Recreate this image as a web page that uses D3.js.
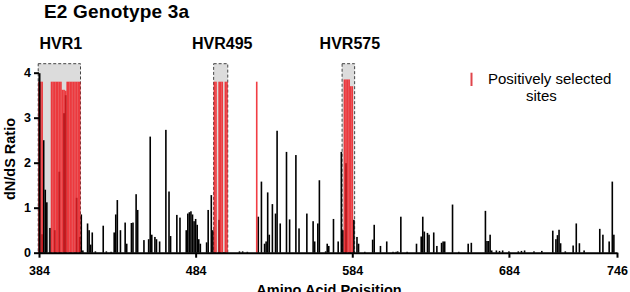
<!DOCTYPE html>
<html>
<head>
<meta charset="utf-8">
<script src="https://cdn.jsdelivr.net/npm/d3@7"></script>
<style>
  body { margin: 0; background: #fff; }
  text { font-family: Arial, "Liberation Sans", Helvetica, sans-serif; fill: #000; }
</style>
</head>
<body>
<svg id="chart"></svg>
<script>
// dN/dS per amino acid site (only non-zero sites listed)
var sites = [386,387,388,389,391,394,397,400,401,408,410,411,412,415,416,417,418,420,425,427,430,
  432,433,434,436,439,440,443,444,446,447,451,454,455,456,458,459,461,465,467,468,472,474,
  478,479,480,481,482,483,484,485,486,487,491,492,494,495,499,512,514,517,
  524,526,528,529,530,531,533,535,536,538,542,544,548,550,555,559,560,562,563,567,568,569,572,575,
  577,578,580,585,587,588,592,597,598,602,606,610,612,613,615,619,625,628,629,630,632,633,636,638,
  641,642,643,648,652,658,660,669,670,671,672,673,676,678,680,684,690,692,694,700,705,
  712,714,715,716,717,720,725,727,729,732,742,744,748,750,751];
var dnds = [0.41,2.5,1.4,1.12,0.55,0.5,1.8,3.1,3.5,1.22,0.35,0.85,0.05,0.65,0.5,0.18,0.45,0.03,0.6,0.03,0.02,
  0.45,0.85,1.17,0.5,0.67,0.2,0.66,0.67,1.3,0.95,0.28,0.3,2.58,0.4,0.35,0.3,0.25,2.73,1.36,0.37,0.84,0.78,
  0.5,0.87,0.9,0.92,0.85,0.7,0.75,0.62,0.3,0.2,0.23,0.95,1.28,0.5,0.73,0.03,0.03,0.02,
  0.8,1.58,0.2,0.25,1.34,0.4,1.08,0.87,2.71,0.65,2.24,0.74,2.17,0.54,0.87,0.7,0.25,0.65,1.61,0.03,0.2,0.15,0.75,0.25,
  2.24,0.5,1.99,0.73,0.35,0.2,0.02,0.29,0.62,0.15,0.25,0.02,0.02,0.03,0.8,0.02,0.2,0.36,0.8,0.47,0.44,0.4,0.45,0.15,
  0.22,0.25,0.25,1.07,0.02,0.2,0.22,0.93,0.26,0.26,0.4,0.05,0.05,0.04,0.05,0.03,0.03,0.04,0.05,0.03,0.04,
  0.49,0.3,0.39,0.51,0.21,0.03,0.16,0.65,0.21,0.05,0.53,0.4,0.25,1.58,0.4];

// positively selected sites
var posSites = [384,385,386,392,393,394,395,396,397,398,399,400,401,402,403,404,405,406,407,408,409,410,
  496,497,499,500,501,503,504,523,579,580,581,582,583,584];
var posValues = [3.8,3.8,3.8,3.8,3.8,3.8,3.8,3.8,3.8,3.8,3.62,3.62,3.6,3.8,3.8,3.8,3.8,3.8,3.8,3.8,3.8,3.8,
  3.8,3.8,3.8,3.8,3.8,3.8,3.8,3.8,3.85,3.85,3.85,3.85,3.7,3.7];

// hypervariable regions
var hvrNames = ["HVR1", "HVR495", "HVR575"];
var hvrStart = [384, 496, 578];
var hvrEnd = [410, 504, 585];
var hvrTop = 4.2;

var xTicks = [384, 484, 584, 684, 753];
var xTickLabels = ["384", "484", "584", "684", "746"];
var yTicks = [0, 1, 2, 3, 4];

var width = 630, height = 292;
var margin = {top: 72.7, right: 13, bottom: 39.3, left: 39};

var svg = d3.select("#chart").attr("width", width).attr("height", height);

var x = d3.scaleLinear().domain([384, 753]).range([margin.left, width - margin.right]);
var y = d3.scaleLinear().domain([0, 4]).range([height - margin.bottom, margin.top]);
var bw = 1.6;

// grey boxes behind the HVRs
svg.selectAll("rect.hvr").data(hvrNames).enter().append("rect")
  .attr("class", "hvr")
  .attr("x", function(d, i) { return x(hvrStart[i] - 0.5); })
  .attr("width", function(d, i) { return x(hvrEnd[i] + 0.5) - x(hvrStart[i] - 0.5); })
  .attr("y", y(hvrTop))
  .attr("height", y(0) - y(hvrTop))
  .style("fill", "#dcdcdc")
  .style("stroke", "#444")
  .style("stroke-width", 1)
  .style("stroke-dasharray", "3,2");

svg.selectAll("text.hvr").data(hvrNames).enter().append("text")
  .attr("class", "hvr")
  .attr("x", function(d, i) { return (x(hvrStart[i] - 0.5) + x(hvrEnd[i] + 0.5)) / 2 + 1.5; })
  .attr("y", 48.5)
  .attr("text-anchor", "middle")
  .style("font-size", "16px")
  .style("font-weight", "bold")
  .text(function(d) { return d; });

// black dN/dS bars
svg.selectAll("rect.bar").data(sites).enter().append("rect")
  .attr("class", "bar")
  .attr("x", function(d) { return x(d) - bw / 2; })
  .attr("width", bw)
  .attr("y", function(d, i) { return y(dnds[i]); })
  .attr("height", function(d, i) { return y(0) - y(dnds[i]); })
  .style("fill", "#000");

// red bars on top, slightly see-through
svg.selectAll("rect.pos").data(posSites).enter().append("rect")
  .attr("class", "pos")
  .attr("x", function(d) { return x(d) - bw / 2; })
  .attr("width", bw)
  .attr("y", function(d, i) { return y(posValues[i]); })
  .attr("height", function(d, i) { return y(0) - y(posValues[i]); })
  .style("fill", "#ee1c22")
  .style("opacity", 0.85);

// axes
var xAxis = d3.axisBottom(x).tickValues(xTicks)
  .tickFormat(function(d, i) { return xTickLabels[i]; })
  .tickSize(5).tickSizeOuter(0).tickPadding(8);
var yAxis = d3.axisLeft(y).tickValues(yTicks).tickFormat(d3.format("d"))
  .tickSize(5).tickSizeOuter(0).tickPadding(3);

var gx = svg.append("g").attr("transform", "translate(0," + y(0) + ")").call(xAxis);
var gy = svg.append("g").attr("transform", "translate(" + margin.left + ",0)").call(yAxis);

[gx, gy].forEach(function(g) {
  g.selectAll("path, line").style("stroke", "#000").style("stroke-width", 2);
  g.selectAll("text")
    .style("font-size", "12.5px").style("font-weight", "bold")
    .style("font-family", "Arial, 'Liberation Sans', Helvetica, sans-serif")
    .style("fill", "#000");
});

// titles
svg.append("text").attr("x", 44).attr("y", 17.5)
  .style("font-size", "19px").style("font-weight", "bold")
  .style("letter-spacing", "0.2px")
  .text("E2 Genotype 3a");

svg.append("text")
  .attr("transform", "translate(15,159) rotate(-90)")
  .attr("text-anchor", "middle")
  .style("font-size", "14.5px").style("font-weight", "bold")
  .text("dN/dS Ratio");

svg.append("text").attr("x", 329).attr("y", 295)
  .attr("text-anchor", "middle")
  .style("font-size", "14.5px").style("font-weight", "bold")
  .text("Amino Acid Poisition");

// legend
svg.append("line")
  .attr("x1", 471.5).attr("x2", 471.5).attr("y1", 72.7).attr("y2", 86)
  .style("stroke", "#e0454b").style("stroke-width", 2);

svg.append("text").attr("x", 488).attr("y", 83.5)
  .style("font-size", "15px")
  .text("Positively selected");
svg.append("text").attr("x", 526).attr("y", 100.5)
  .style("font-size", "15px")
  .text("sites");
</script>
</body>
</html>
